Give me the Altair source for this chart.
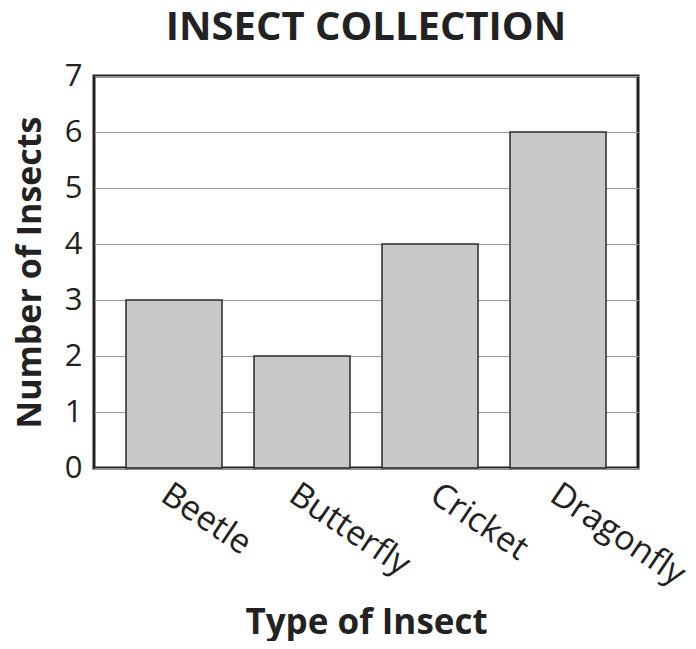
import altair as alt
import pandas as pd

insects = ["Beetle", "Butterfly", "Cricket", "Dragonfly"]
counts = [3, 2, 4, 6]
y_ticks = [0, 1, 2, 3, 4, 5, 6, 7]

df = pd.DataFrame({"Type of Insect": insects, "Number of Insects": counts})

FONT = "Open Sans"

chart = alt.Chart(df).mark_bar(
    color="#c8c8c8", stroke="#2a2a2a", strokeWidth=1.5
).encode(
    x=alt.X(
        "Type of Insect:N",
        sort=insects,
        scale=alt.Scale(paddingInner=0.25, paddingOuter=0.25),
        axis=alt.Axis(
            title="Type of Insect",
            labelAngle=34,
            labelAlign="left",
            labelBaseline="top",
            labelFontSize=34,
            labelFont=FONT,
            labelColor="#222222",
            labelPadding=9,
            labelOffset={
                "condition": [
                    {"test": "datum.value == 'Cricket'", "value": 13},
                    {"test": "datum.value == 'Dragonfly'", "value": 5},
                ],
                "value": 0,
            },
            ticks=False,
            domain=False,
            titleFont=FONT,
            titleFontSize=35,
            titleFontWeight="bold",
            titleColor="#222222",
            titlePadding=14,
        ),
    ),
    y=alt.Y(
        "Number of Insects:Q",
        scale=alt.Scale(domain=[0, 7]),
        axis=alt.Axis(
            title="Number of Insects",
            values=y_ticks,
            grid=True,
            gridColor="#9a9a9a",
            gridWidth=1,
            ticks=False,
            domain=False,
            labelFontSize=31,
            labelFont=FONT,
            labelColor="#222222",
            labelPadding=12,
            titleFont=FONT,
            titleFontSize=34,
            titleFontWeight="bold",
            titleColor="#222222",
            titlePadding=17,
        ),
    ),
).properties(
    width=544,
    height=392,
    title=alt.TitleParams(
        "INSECT COLLECTION",
        font=FONT,
        fontSize=40,
        fontWeight="bold",
        color="#222222",
        anchor="middle",
        offset=12,
    ),
    autosize=alt.AutoSizeParams(type="none"),
    padding={"left": 86, "top": 68, "right": 50, "bottom": 173},
).configure_view(
    stroke="#222222", strokeWidth=3
)

chart.save("out.html", embed_options={"renderer": "svg", "actions": False})
